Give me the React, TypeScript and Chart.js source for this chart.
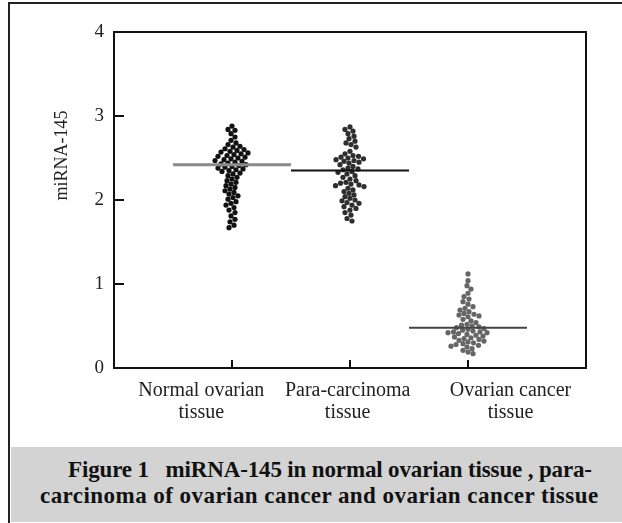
import React, { useEffect, useRef } from 'react';
import { Chart, registerables } from 'chart.js';

Chart.register(...registerables);

const categoryLabels: string[][] = [
  ['Normal ovarian', 'tissue'],
  ['Para-carcinoma', 'tissue'],
  ['Ovarian cancer', 'tissue'],
];
const categoryPositions = [1, 2, 3];
const labelPositions = [0.74, 1.98, 3.36];
const yTicks = [0, 1, 2, 3, 4];
const yTitle = 'miRNA-145';

const normalValues = [
  2.88, 2.84, 2.83, 2.79, 2.75, 2.71, 2.68, 2.66, 2.64, 2.63, 2.61, 2.6, 2.59, 2.58, 2.57, 2.56,
  2.55, 2.54, 2.53, 2.52, 2.51, 2.5, 2.49, 2.48, 2.47, 2.46, 2.45, 2.44, 2.43, 2.42, 2.41, 2.4,
  2.39, 2.38, 2.37, 2.36, 2.35, 2.34, 2.32, 2.31, 2.29, 2.27, 2.25, 2.23, 2.21, 2.19, 2.17, 2.15,
  2.13, 2.11, 2.09, 2.07, 2.05, 2.03, 2.01, 1.98, 1.96, 1.94, 1.91, 1.88, 1.85, 1.81, 1.77, 1.74,
  1.7, 1.67,
];
const paraValues = [
  2.87, 2.84, 2.82, 2.79, 2.76, 2.73, 2.7, 2.68, 2.66, 2.63, 2.58, 2.55, 2.53, 2.52, 2.51, 2.5,
  2.49, 2.48, 2.47, 2.46, 2.45, 2.44, 2.42, 2.4, 2.38, 2.37, 2.36, 2.34, 2.33, 2.31, 2.29, 2.27,
  2.25, 2.23, 2.21, 2.2, 2.19, 2.18, 2.17, 2.16, 2.14, 2.12, 2.1, 2.08, 2.06, 2.04, 2.02, 2.0,
  1.99, 1.97, 1.96, 1.94, 1.92, 1.9, 1.88, 1.85, 1.82, 1.78, 1.75,
];
const cancerValues = [
  1.12, 1.04, 0.98, 0.94, 0.89, 0.85, 0.82, 0.79, 0.76, 0.73, 0.71, 0.69, 0.67, 0.65, 0.64, 0.63,
  0.62, 0.61, 0.58, 0.56, 0.54, 0.52, 0.51, 0.5, 0.49, 0.48, 0.47, 0.46, 0.45, 0.44, 0.43, 0.43,
  0.42, 0.42, 0.41, 0.4, 0.39, 0.38, 0.37, 0.36, 0.35, 0.34, 0.33, 0.32, 0.31, 0.3, 0.29, 0.28,
  0.27, 0.26, 0.25, 0.23, 0.21, 0.19, 0.17,
];
const means = [2.42, 2.35, 0.48];

const FONT = '"Liberation Serif", "Times New Roman", serif';
const PX_X = 118;
const PX_Y = 85.25;

function beeswarm(values: number[], center: number) {
  const minDist = 5.2;
  const placed: { x: number; y: number }[] = [];
  const out: { x: number; y: number }[] = [];
  const order = values.map((_, i) => i).sort((a, b) => values[b] - values[a]);
  for (const i of order) {
    const y = values[i] * PX_Y;
    let best = 0;
    for (let k = 0; k < 400; k++) {
      const off = (k % 2 === 0 ? 1 : -1) * Math.ceil(k / 2) * 0.5;
      if (placed.every((p) => (p.x - off) ** 2 + (p.y - y) ** 2 >= minDist * minDist)) {
        best = off;
        break;
      }
    }
    placed.push({ x: best, y });
    out.push({ x: center + best / PX_X, y: values[i] });
  }
  return out;
}

const framePlugin = {
  id: 'frame',
  afterDraw(chart: any) {
    const { ctx, chartArea, scales } = chart;
    const { left, right, top, bottom } = chartArea;
    ctx.save();
    ctx.strokeStyle = '#111';
    ctx.lineWidth = 2;
    ctx.strokeRect(left, top, right - left, bottom - top);
    ctx.beginPath();
    for (const v of categoryPositions) {
      const px = Math.round(scales.x.getPixelForValue(v));
      ctx.moveTo(px, bottom);
      ctx.lineTo(px, bottom - 8);
    }
    for (const t of yTicks.slice(1, -1)) {
      const py = Math.round(scales.y.getPixelForValue(t));
      ctx.moveTo(left, py);
      ctx.lineTo(left + 10, py);
    }
    ctx.stroke();
    // y axis title, placed beside the upper half of the axis as in the original
    ctx.translate(left - 52, scales.y.getPixelForValue(2.53));
    ctx.rotate(-Math.PI / 2);
    ctx.font = `18px ${FONT}`;
    ctx.fillStyle = '#222';
    ctx.textAlign = 'center';
    ctx.textBaseline = 'middle';
    ctx.fillText(yTitle, 0, 0);
    ctx.restore();
  },
};

export default function App() {
  const ref = useRef<HTMLCanvasElement>(null);
  useEffect(() => {
    if (!ref.current) return;
    const groups = [normalValues, paraValues, cancerValues];
    const pointColors = ['#111111', '#2e2e2e', '#666666'];
    const lineColors = ['#8a8a8a', '#111111', '#444444'];
    const lineWidths = [3, 2, 2];
    const lineSets = means.map((m, i) => ({
      type: 'line' as const,
      data: [
        { x: categoryPositions[i] - 0.5, y: m },
        { x: categoryPositions[i] + 0.5, y: m },
      ],
      borderColor: lineColors[i],
      borderWidth: lineWidths[i],
      pointRadius: 0,
      showLine: true,
    }));
    const pointSets = groups.map((g, i) => ({
      type: 'scatter' as const,
      data: beeswarm(g, categoryPositions[i]),
      backgroundColor: pointColors[i],
      borderWidth: 0,
      pointRadius: 2.6,
    }));
    const chart = new Chart(ref.current, {
      type: 'scatter',
      data: { datasets: [...lineSets, ...pointSets] as any },
      plugins: [framePlugin],
      options: {
        animation: false,
        responsive: false,
        layout: { padding: { top: 32, right: 36, left: 48, bottom: 0 } },
        plugins: { legend: { display: false }, tooltip: { enabled: false } },
        scales: {
          x: {
            type: 'linear',
            min: 0,
            max: 4,
            afterBuildTicks: (axis: any) => {
              axis.ticks = labelPositions.map((v) => ({ value: v }));
            },
            afterFit: (axis: any) => {
              axis.height = 79;
            },
            ticks: {
              autoSkip: false,
              maxRotation: 0,
              padding: 12,
              color: '#222',
              font: { family: FONT, size: 20, lineHeight: 1.1 },
              callback: (_v: any, idx: number) => categoryLabels[idx],
            },
            grid: { display: false, drawTicks: false },
            border: { display: false },
          },
          y: {
            type: 'linear',
            min: 0,
            max: 4,
            afterBuildTicks: (axis: any) => {
              axis.ticks = yTicks.map((v) => ({ value: v }));
            },
            afterFit: (axis: any) => {
              axis.width = 66;
            },
            ticks: {
              padding: 10,
              color: '#222',
              font: { family: FONT, size: 19 },
            },
            grid: { display: false, drawTicks: false },
            border: { display: false },
            title: { display: false },
          },
        },
      },
    });
    return () => chart.destroy();
  }, []);

  return (
    <div style={{ position: 'absolute', left: 0, top: 0, width: 622, height: 523, background: '#fff', overflow: 'hidden' }}>
      <div
        style={{
          position: 'absolute',
          left: 8,
          top: 2,
          width: 614,
          height: 521,
          borderLeft: '2px solid #222',
          borderTop: '2px solid #222',
          boxSizing: 'border-box',
        }}
      />
      <canvas ref={ref} width={622} height={447} style={{ position: 'absolute', left: 0, top: 0 }} />
      <div
        style={{
          position: 'absolute',
          left: 11,
          top: 447,
          width: 611,
          height: 75,
          background: '#d3d3d3',
          fontFamily: FONT,
          fontWeight: 'bold',
          fontSize: 23,
          lineHeight: '26px',
          color: '#111',
          paddingTop: 10,
          boxSizing: 'border-box',
          whiteSpace: 'nowrap',
        }}
      >
        <div style={{ position: 'absolute', left: 57, top: 10, letterSpacing: '-0.15px' }}>
          Figure 1&nbsp;&nbsp;&nbsp;miRNA-145 in normal ovarian tissue , para-
        </div>
        <div style={{ position: 'absolute', left: 29, top: 36, letterSpacing: '0.45px' }}>
          carcinoma of ovarian cancer and ovarian cancer tissue
        </div>
      </div>
    </div>
  );
}
